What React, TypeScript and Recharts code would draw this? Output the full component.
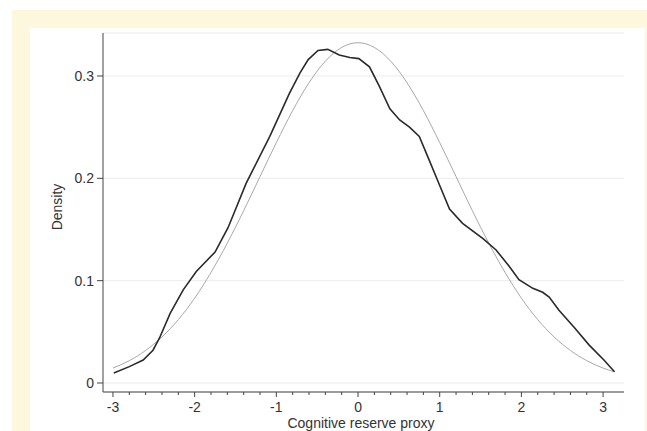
import { LineChart, Line, XAxis, YAxis, CartesianGrid } from 'recharts';

// Kernel density estimate of the cognitive reserve proxy
const kdeX = [
  -2.99, -2.8, -2.63, -2.51, -2.43, -2.3, -2.14, -1.98, -1.75, -1.59, -1.37, -1.08, -0.84,
  -0.71, -0.61, -0.49, -0.37, -0.23, -0.1, 0.01, 0.14, 0.26, 0.39, 0.51, 0.63, 0.75, 0.87,
  1.0, 1.12, 1.28, 1.53, 1.69, 1.85, 1.97, 2.14, 2.26, 2.34, 2.46, 2.65, 2.83, 3.01, 3.14,
];
const kdeY = [
  0.0098, 0.016, 0.0225, 0.032, 0.044, 0.068, 0.091, 0.109, 0.128, 0.152, 0.195, 0.241, 0.283,
  0.303, 0.316, 0.325, 0.326, 0.3205, 0.318, 0.317, 0.309, 0.29, 0.268, 0.257, 0.25, 0.241, 0.218,
  0.193, 0.17, 0.156, 0.141, 0.13, 0.114, 0.101, 0.0925, 0.0886, 0.084, 0.071, 0.054, 0.037, 0.0225, 0.011,
];

// Normal density overlay (gray)
const normX = [
  -3.0, -2.8, -2.6, -2.4, -2.2, -2.0, -1.8, -1.6, -1.4, -1.2, -1.0, -0.8, -0.6, -0.4, -0.2, 0,
  0.2, 0.4, 0.6, 0.8, 1.0, 1.2, 1.4, 1.6, 1.8, 2.0, 2.2, 2.4, 2.6, 2.8, 3.0, 3.14,
];
const normY = [
  0.0146, 0.0218, 0.0318, 0.045, 0.0619, 0.0829, 0.108, 0.1367, 0.1683, 0.2017, 0.2349, 0.2662,
  0.2934, 0.3145, 0.3279, 0.3325, 0.3279, 0.3145, 0.2934, 0.2662, 0.2349, 0.2017, 0.1683, 0.1367,
  0.108, 0.0829, 0.0619, 0.045, 0.0318, 0.0218, 0.0146, 0.0108,
];

const majorTicks = [-3, -2, -1, 0, 1, 2, 3];
const minorTicks = [
  -2.8, -2.6, -2.4, -2.2, -1.8, -1.6, -1.4, -1.2, -0.8, -0.6, -0.4, -0.2,
  0.2, 0.4, 0.6, 0.8, 1.2, 1.4, 1.6, 1.8, 2.2, 2.4, 2.6, 2.8,
];
const yTicks = [0, 0.1, 0.2, 0.3];

const kdeData = kdeX.map((x, i) => ({ x, y: kdeY[i] }));
const normData = normX.map((x, i) => ({ x, y: normY[i] }));
const allXTicks = [...majorTicks, ...minorTicks].sort((a, b) => a - b);

const FONT = 'Liberation Sans, Arial, sans-serif';
const TEXT = '#333';
const AXIS = '#444';

function XTick(props: any) {
  const { x, y, payload } = props;
  const major = majorTicks.includes(payload.value);
  return (
    <g>
      <line x1={x} x2={x} y1={y} y2={y + (major ? 5 : 3)} stroke={AXIS} strokeWidth={1} />
      {major && (
        <text x={x} y={y + 20} textAnchor="middle" fontSize={14} fontFamily={FONT} fill={TEXT}>
          {String(payload.value)}
        </text>
      )}
    </g>
  );
}

export default function App() {
  return (
    <div style={{ position: 'absolute', left: 0, top: 0, width: 647, height: 431, background: '#fff' }}>
      <div style={{ position: 'absolute', left: 12, top: 10, width: 635, height: 421, background: '#fdf7de' }} />
      <div style={{ position: 'absolute', left: 30, top: 28, width: 615, height: 403, background: '#fff' }} />
      <div style={{ position: 'absolute', left: 0, top: 0 }}>
        <LineChart width={647} height={431} margin={{ top: 33, right: 23, bottom: 9, left: 53 }}>
          <CartesianGrid vertical={false} stroke="#ececec" />
          <XAxis
            type="number"
            dataKey="x"
            domain={[-3.122, 3.256]}
            allowDataOverflow
            ticks={allXTicks}
            interval={0}
            tick={<XTick />}
            tickLine={false}
            tickSize={0}
            tickMargin={0}
            height={30}
            axisLine={{ stroke: AXIS }}
          />
          <YAxis
            type="number"
            domain={[-0.0088, 0.342]}
            allowDataOverflow
            ticks={yTicks}
            interval={0}
            width={50}
            tickSize={6}
            tickMargin={3}
            tickLine={{ stroke: AXIS }}
            axisLine={{ stroke: AXIS }}
            tick={{ fontSize: 14, fontFamily: FONT, fill: TEXT }}
          />
          <Line
            data={normData}
            dataKey="y"
            type="monotone"
            stroke="#a8a8a8"
            strokeWidth={1}
            dot={false}
            isAnimationActive={false}
          />
          <Line
            data={kdeData}
            dataKey="y"
            type="linear"
            stroke="#2a2a2a"
            strokeWidth={1.6}
            dot={false}
            isAnimationActive={false}
          />
        </LineChart>
      </div>
      <div
        style={{
          position: 'absolute',
          left: 57,
          top: 207,
          transform: 'translate(-50%, -50%) rotate(-90deg)',
          fontFamily: FONT,
          fontSize: 14,
          color: TEXT,
          whiteSpace: 'nowrap',
        }}
      >
        Density
      </div>
      <div
        style={{
          position: 'absolute',
          left: 361,
          top: 423,
          transform: 'translate(-50%, -50%)',
          fontFamily: FONT,
          fontSize: 14,
          color: TEXT,
          whiteSpace: 'nowrap',
        }}
      >
        Cognitive reserve proxy
      </div>
    </div>
  );
}
